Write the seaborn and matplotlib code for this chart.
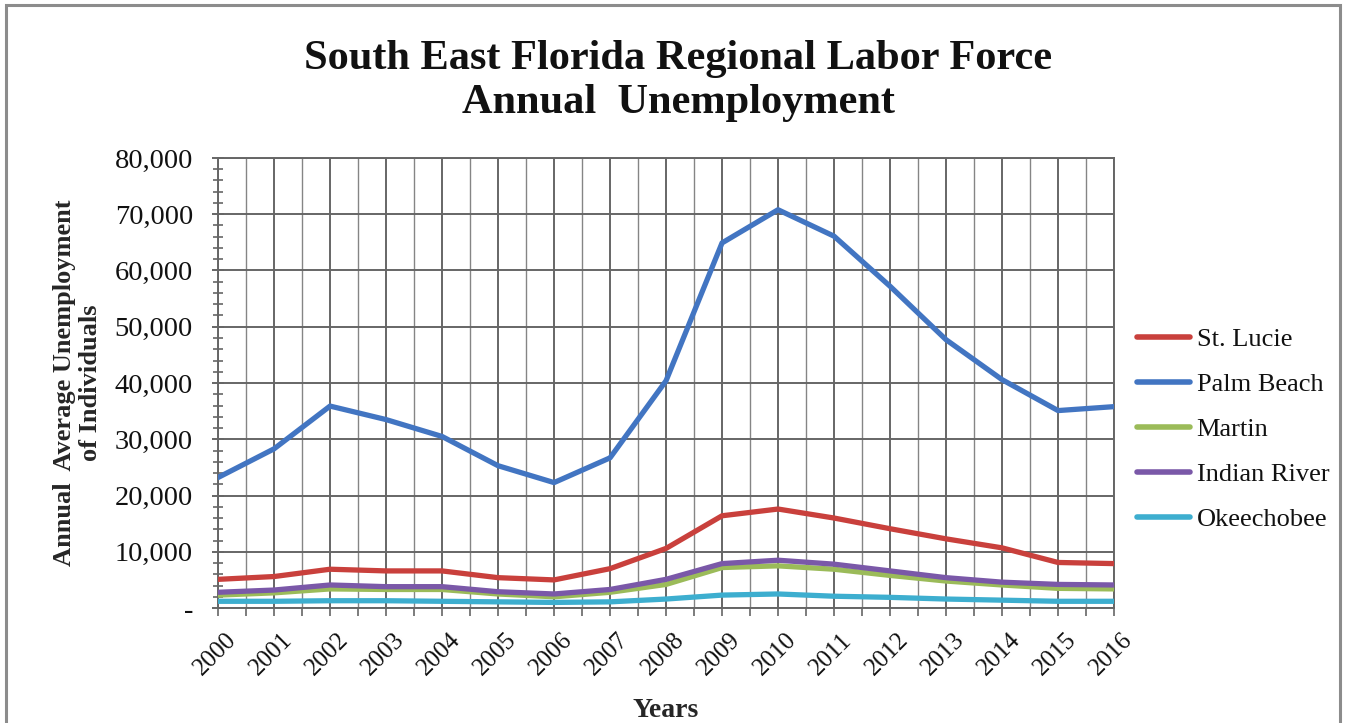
import numpy as np
import pandas as pd
import matplotlib
matplotlib.use("Agg")
import matplotlib.pyplot as plt
import matplotlib.ticker as mticker
from matplotlib.patches import Rectangle
import seaborn as sns

# Annual average unemployment by county
years = list(range(2000, 2017))
st_lucie = [5100, 5600, 6900, 6600, 6600, 5400, 5000, 7000, 10600, 16400, 17600, 16000, 14100, 12300, 10700, 8100, 7900]
palm_beach = [23200, 28300, 35900, 33500, 30500, 25300, 22300, 26700, 40400, 64900, 70800, 66100, 57200, 47700, 40600, 35100, 35800]
martin = [2300, 2700, 3400, 3300, 3300, 2500, 2000, 2800, 4200, 7200, 7500, 6900, 5800, 4800, 4100, 3500, 3400]
indian_river = [2800, 3200, 4100, 3800, 3800, 2900, 2500, 3300, 5100, 7900, 8500, 7800, 6600, 5400, 4600, 4200, 4100]
okeechobee = [1200, 1200, 1300, 1300, 1200, 1100, 1000, 1100, 1600, 2300, 2500, 2100, 1900, 1600, 1400, 1200, 1200]

counties = ["St. Lucie", "Palm Beach", "Martin", "Indian River", "Okeechobee"]
series = [st_lucie, palm_beach, martin, indian_river, okeechobee]
colors = ["#C9403C", "#4275C2", "#9BBB59", "#7A58A8", "#3DAECF"]

df = pd.DataFrame({
    "Year": np.tile(years, len(counties)),
    "Value": np.concatenate(series),
    "County": np.repeat(counties, len(years)),
})

sns.set_style("white")
plt.rcParams["font.family"] = ["Liberation Serif", "DejaVu Serif"]
plt.rcParams["text.color"] = "#111111"
plt.rcParams["xtick.labelcolor"] = "#111111"
plt.rcParams["ytick.labelcolor"] = "#111111"

fig = plt.figure(figsize=(13.51, 7.23), dpi=100)
ax = fig.add_axes([0.1614, 0.159, 0.6632, 0.6225])

sns.lineplot(data=df, x="Year", y="Value", hue="County", hue_order=counties,
             palette=colors, linewidth=3.8, ax=ax, legend=True, zorder=3)

ax.set_xlim(2000, 2016)
ax.set_ylim(0, 80000)

# Grid: major at years / 10,000s, minor verticals at half years
ax.xaxis.set_major_locator(mticker.FixedLocator(years))
ax.xaxis.set_minor_locator(mticker.MultipleLocator(0.5))
ax.yaxis.set_major_locator(mticker.MultipleLocator(10000))
ax.yaxis.set_minor_locator(mticker.MultipleLocator(2000))
ax.grid(which="major", axis="both", color="#666666", linewidth=1.4, zorder=0)
ax.grid(which="minor", axis="x", color="#858585", linewidth=1.0, zorder=0)
ax.set_axisbelow(True)

for s in ax.spines.values():
    s.set_color("#666666")
    s.set_linewidth(1.4)

def fmt(v, pos):
    return "-" if v == 0 else f"{int(v):,}"

ax.yaxis.set_major_formatter(mticker.FuncFormatter(fmt))
ax.tick_params(axis="y", which="both", left=True, direction="inout", color="#666666",
               labelsize=20.5, pad=14)
ax.tick_params(axis="y", which="major", length=8, width=1.4)
ax.tick_params(axis="y", which="minor", length=7, width=1.2)
ax.tick_params(axis="x", which="both", bottom=True, direction="out", color="#666666",
               length=6, width=1.2, labelsize=18, pad=9)
ax.set_xticklabels([str(y) for y in years], rotation=45, ha="right", va="top",
                   rotation_mode="anchor")
for lbl in ax.get_xticklabels():
    lbl.set_transform(lbl.get_transform() + matplotlib.transforms.ScaledTranslation(0.07, 0.0, fig.dpi_scale_trans))

ax.set_xlabel("Years", fontsize=20, fontweight="bold", labelpad=13)
ax.set_ylabel("Annual  Average Unemployment\nof Individuals", fontsize=19,
              fontweight="bold", labelpad=9, linespacing=1.15)

fig.suptitle("South East Florida Regional Labor Force\nAnnual  Unemployment",
             x=0.502, y=0.944, fontsize=30.5, fontweight="bold", linespacing=1.2)

leg = ax.legend(loc="upper left", bbox_to_anchor=(1.014, 0.647), frameon=False,
                fontsize=19, handlelength=2.0, handletextpad=0.25,
                labelspacing=0.82, borderaxespad=0)
for h in leg.get_lines():
    h.set_linewidth(4)

# Outer chart border
fig.patches.append(Rectangle((0.0045, -0.02), 0.987, 1.013, transform=fig.transFigure,
                             fill=False, edgecolor="#8c8c8c", linewidth=2.2))

fig.savefig("out.png", dpi=100)
